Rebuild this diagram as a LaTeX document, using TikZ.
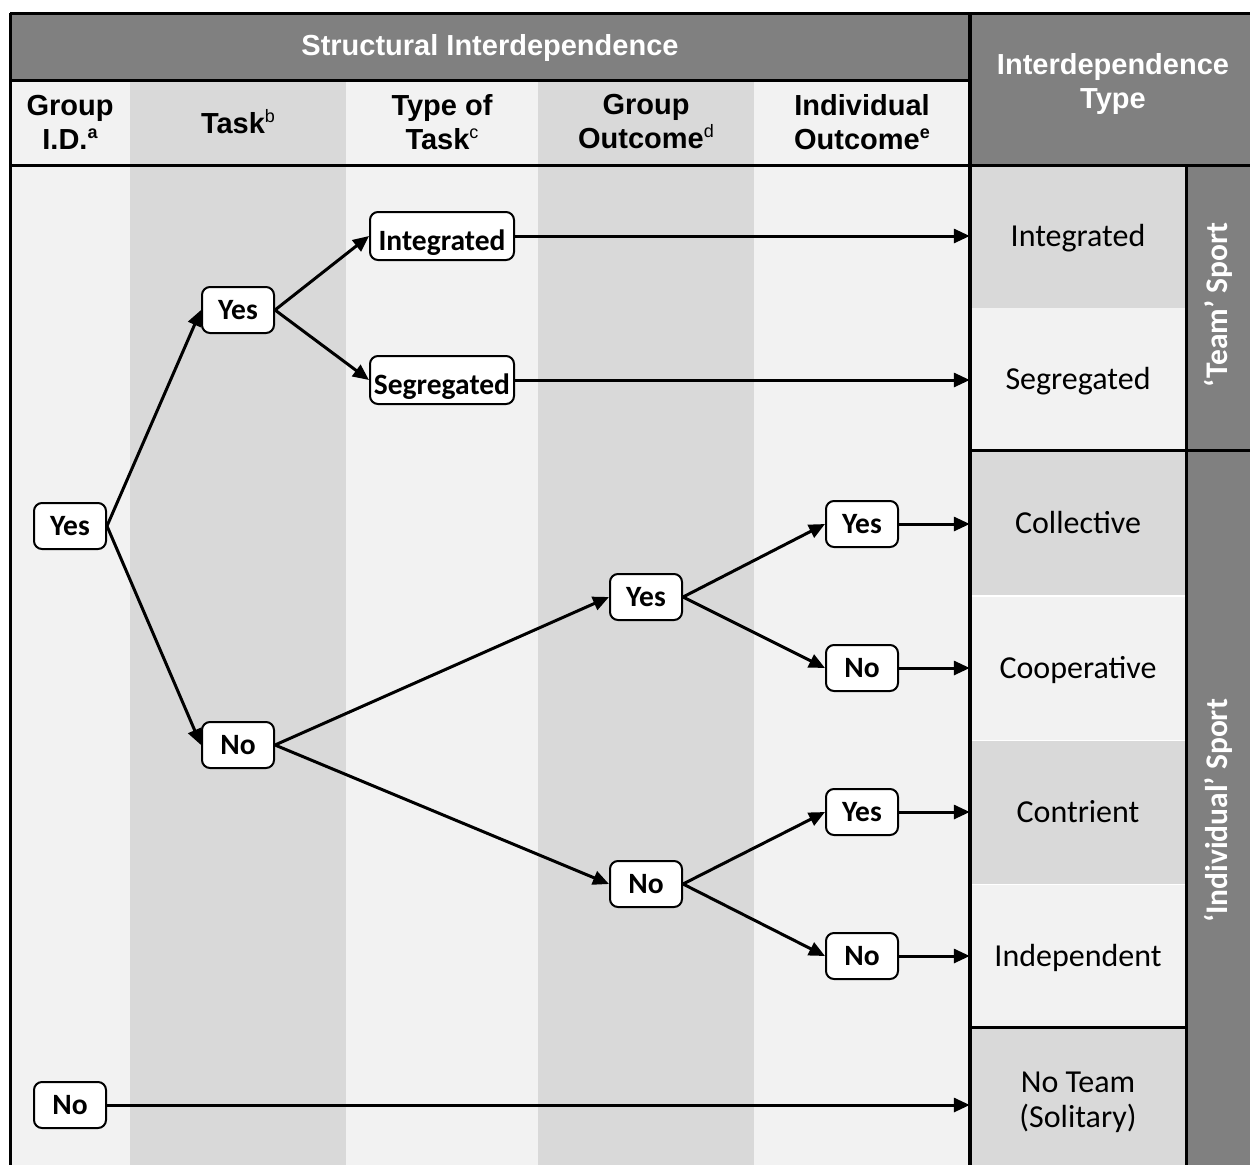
\documentclass[tikz,border=0pt]{standalone}
\usepackage{fontspec}
\setmainfont{Carlito}
\newfontfamily\hdrfont{Liberation Sans}
\usetikzlibrary{arrows.meta}
\definecolor{dk}{HTML}{808080}
\definecolor{cA}{HTML}{F2F2F2}
\definecolor{cB}{HTML}{D9D9D9}
\newcommand{\hsupb}[1]{\raisebox{11pt}{\fontsize{18}{18}\selectfont\bfseries #1}}
\newcommand{\hsupr}[1]{\raisebox{11pt}{\fontsize{18}{18}\selectfont\mdseries #1}}
\tikzset{
  hdr/.style={align=center, font=\hdrfont\bfseries\fontsize{29}{34}\selectfont, inner sep=0pt},
  hdrw/.style={hdr, text=white},
  dec/.style={draw=black, line width=2pt, fill=white, rounded corners=8pt,
    font=\bfseries\fontsize{29.5}{30}\selectfont, inner sep=0pt,
    minimum height=46pt, minimum width=72pt, text height=19pt, text depth=0pt},
  decw/.style={dec, minimum width=144pt, minimum height=48pt, text height=29pt, text depth=0pt},
  rcell/.style={inner sep=0pt, minimum width=216pt, minimum height=143pt, align=center,
    font=\fontsize{32}{35}\selectfont, text height=20.6pt, text depth=0pt},
  vlab/.style={rotate=90, text=white, font=\bfseries\fontsize{31.5}{32}\selectfont, inner sep=0pt},
  arr/.style={line width=3pt, -{Triangle[length=16pt,width=14pt]}},
  rule/.style={line width=3pt}
}
\begin{document}
\begin{tikzpicture}[x=1pt,y=-1pt]
\useasboundingbox (0,0) rectangle (1250,1165);
% header fills
\fill[dk] (10,13) rectangle (1250,80);
\fill[dk] (970,80) rectangle (1250,165);
% column fills
\fill[cA] (10,80) rectangle (130,1165);
\fill[cB] (130,80) rectangle (346,1165);
\fill[cA] (346,80) rectangle (538,1165);
\fill[cB] (538,80) rectangle (754,1165);
\fill[cA] (754,80) rectangle (970,1165);
% right side column
\fill[dk] (1186,165) rectangle (1250,1165);
% right cells
\node[rcell, fill=cB] (cint) at (1078,236) {Integrated};
\node[rcell, fill=cA] (cseg) at (1078,379) {Segregated};
\node[rcell, fill=cB] (ccol) at (1078,523) {Collective};
\node[rcell, fill=cA] (ccoo) at (1078,668) {Cooperative};
\node[rcell, fill=cB] (ccon) at (1078,812) {Contrient};
\node[rcell, fill=cA] (cind) at (1078,956) {Independent};
\node[rcell, fill=cB, minimum height=138pt] (cnot) at (1078,1096) {};
\node[align=center, inner sep=0pt, font=\fontsize{32}{35}\selectfont] (cnott) at (1078,1102) {No Team\\(Solitary)};
% rules
\draw[rule] (10,13) -- (1250,13);
\draw[rule] (10,13) -- (10,1165);
\draw[rule] (10,80) -- (970,80);
\draw[rule] (10,165) -- (1250,165);
\draw[rule] (1186,165) -- (1186,1165);
\draw[rule] (970,450) -- (1250,450);
\draw[rule] (970,1027) -- (1186,1027);
\draw[line width=4pt] (970,13) -- (970,1165);
% header texts
\node[hdrw] (hsi) at (490,48) {Structural Interdependence};
\node[hdrw] (hit) at (1113,84) {Interdependence\\Type};
\node[hdr] (hg) at (70,122) {Group\\I.D.\hsupb{a}};
\node[hdr] (ht) at (238,122) {Task\hsupr{b}};
\node[hdr] (htt) at (442,122) {Type of\\Task\hsupr{c}};
\node[hdr] (hgo) at (646,122) {Group\\Outcome\hsupr{d}};
\node[hdr] (hio) at (862,122) {Individual\\Outcome\hsupb{e}};
% vertical labels
\node[vlab] (vteam) at (1218,305) {‘Team’ Sport};
\node[vlab] (vind) at (1218,811) {‘Individual’ Sport};
% decision nodes
\node[dec] (gy) at (70,526) {Yes};
\node[dec] (gn) at (70,1105) {No};
\node[dec] (ty) at (238,310) {Yes};
\node[dec] (tn) at (238,745) {No};
\node[decw] (tint) at (442,236) {Integrated};
\node[decw] (tseg) at (442,380) {Segregated};
\node[dec] (goy) at (646,597) {Yes};
\node[dec] (gon) at (646,884) {No};
\node[dec] (io1) at (862,524) {Yes};
\node[dec] (io2) at (862,668) {No};
\node[dec] (io3) at (862,812) {Yes};
\node[dec] (io4) at (862,956) {No};
% arrows
\draw[arr] (gy.east) -- (ty.west);
\draw[arr] (gy.east) -- (tn.west);
\draw[arr] (ty.east) -- (tint.west);
\draw[arr] (ty.east) -- (tseg.west);
\draw[arr] (tint.east) -- (cint.west |- tint.east);
\draw[arr] (tseg.east) -- (cseg.west |- tseg.east);
\draw[arr] (tn.east) -- (goy.west);
\draw[arr] (tn.east) -- (gon.west);
\draw[arr] (goy.east) -- (io1.west);
\draw[arr] (goy.east) -- (io2.west);
\draw[arr] (gon.east) -- (io3.west);
\draw[arr] (gon.east) -- (io4.west);
\draw[arr] (io1.east) -- (ccol.west |- io1.east);
\draw[arr] (io2.east) -- (ccoo.west |- io2.east);
\draw[arr] (io3.east) -- (ccon.west |- io3.east);
\draw[arr] (io4.east) -- (cind.west |- io4.east);
\draw[arr] (gn.east) -- (cnot.west |- gn.east);
\end{tikzpicture}
\end{document}
